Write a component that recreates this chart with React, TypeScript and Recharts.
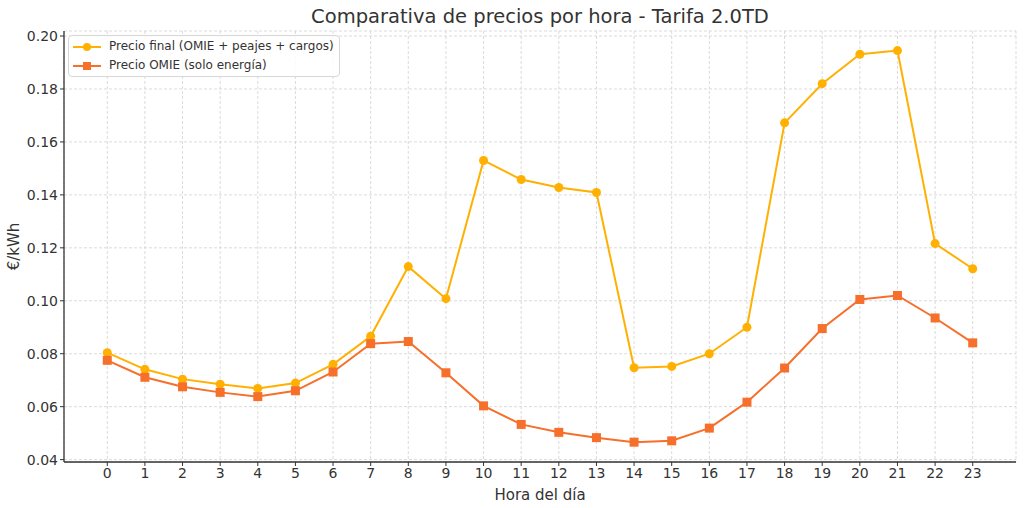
import React from 'react'
import { LineChart, Line, XAxis, YAxis, CartesianGrid } from 'recharts'

const hours = [0, 1, 2, 3, 4, 5, 6, 7, 8, 9, 10, 11, 12, 13, 14, 15, 16, 17, 18, 19, 20, 21, 22, 23]

const finalPrice = [
  0.0804, 0.0741, 0.0704, 0.0685, 0.0669, 0.0689, 0.0760, 0.0866, 0.1129, 0.1008, 0.1530, 0.1458,
  0.1428, 0.1409, 0.0747, 0.0752, 0.0800, 0.0900, 0.1672, 0.1820, 0.1931, 0.1945, 0.1216, 0.1121,
]

const omiePrice = [
  0.0775, 0.0711, 0.0675, 0.0654, 0.0638, 0.0660, 0.0731, 0.0838, 0.0846, 0.0728, 0.0603, 0.0533,
  0.0503, 0.0483, 0.0466, 0.0471, 0.0519, 0.0617, 0.0746, 0.0895, 0.1005, 0.1020, 0.0935, 0.0841,
]

const yTicks = [0.04, 0.06, 0.08, 0.1, 0.12, 0.14, 0.16, 0.18, 0.2]

const FINAL_COLOR = '#ffb000'
const OMIE_COLOR = '#f66f2b'
const TEXT = '#333333'
const FONT = 'DejaVu Sans, sans-serif'

const data = hours.map((h, i) => ({ hour: h, final: finalPrice[i], omie: omiePrice[i] }))

const SquareDot = (props: any) => {
  const { cx, cy, index } = props
  if (cx == null || cy == null) return null
  return <rect key={`sq-${index}`} x={cx - 4.5} y={cy - 4.5} width={9} height={9} fill={OMIE_COLOR} />
}

const legendItems = [
  { label: 'Precio final (OMIE + peajes + cargos)', color: FINAL_COLOR, square: false },
  { label: 'Precio OMIE (solo energía)', color: OMIE_COLOR, square: true },
]

// legend drawn by hand so it floats over the plot like the original
const LegendBox = () => (
  <div
    style={{
      position: 'absolute',
      left: 68,
      top: 35,
      border: '1px solid #d6d6d6',
      borderRadius: 4,
      background: 'rgba(255,255,255,0.85)',
      padding: '1px 5px 1px 4px',
      fontFamily: FONT,
      fontSize: 12,
      color: TEXT,
      lineHeight: '19px',
      zIndex: 2,
    }}
  >
    {legendItems.map((item) => (
      <div key={item.label} style={{ display: 'flex', alignItems: 'center' }}>
        <svg width={28} height={12} style={{ marginRight: 8 }}>
          <line x1={0} y1={6} x2={28} y2={6} stroke={item.color} strokeWidth={2} />
          {item.square ? (
            <rect x={10} y={2} width={8} height={8} fill={item.color} />
          ) : (
            <circle cx={14} cy={6} r={4} fill={item.color} />
          )}
        </svg>
        <span>{item.label}</span>
      </div>
    ))}
  </div>
)

export default function App() {
  return (
    <div style={{ position: 'absolute', left: 0, top: 0, width: 1024, height: 508, background: '#fff' }}>
      <div
        style={{
          position: 'absolute',
          left: 64,
          width: 952,
          top: 5,
          textAlign: 'center',
          fontFamily: FONT,
          fontSize: 19.5,
          color: TEXT,
        }}
      >
        Comparativa de precios por hora - Tarifa 2.0TD
      </div>
      <LegendBox />
      <LineChart width={1024} height={508} data={data} margin={{ top: 31, right: 8, left: 0, bottom: 0 }}>
        <CartesianGrid stroke="#d2d2d2" strokeDasharray="3 2" strokeWidth={0.8} />
        <XAxis
          dataKey="hour"
          type="number"
          domain={[-1.15, 24.15]}
          ticks={hours}
          interval={0}
          allowDataOverflow
          height={46}
          axisLine={{ stroke: TEXT, strokeWidth: 1.3 }}
          tickLine={{ stroke: TEXT }}
          tickSize={4}
          tick={{ fill: TEXT, fontSize: 14, fontFamily: FONT }}
          label={{ value: 'Hora del día', position: 'insideBottom', offset: 8, fill: TEXT, fontSize: 15, fontFamily: FONT }}
        />
        <YAxis
          type="number"
          domain={[0.0391, 0.2019]}
          ticks={yTicks}
          allowDataOverflow
          width={64}
          tickFormatter={(v: number) => v.toFixed(2)}
          axisLine={{ stroke: TEXT, strokeWidth: 1.3 }}
          tickLine={{ stroke: TEXT }}
          tickSize={4}
          tick={{ fill: TEXT, fontSize: 14, fontFamily: FONT }}
          label={{ value: '€/kWh', angle: -90, position: 'insideLeft', offset: 14, fill: TEXT, fontSize: 15, fontFamily: FONT, style: { textAnchor: 'middle' } }}
        />
        <Line
          dataKey="final"
          stroke={FINAL_COLOR}
          strokeWidth={2}
          dot={{ r: 4.5, fill: FINAL_COLOR, stroke: FINAL_COLOR, strokeWidth: 0 }}
          activeDot={false}
          isAnimationActive={false}
        />
        <Line
          dataKey="omie"
          stroke={OMIE_COLOR}
          strokeWidth={2}
          dot={SquareDot}
          activeDot={false}
          isAnimationActive={false}
        />
      </LineChart>
    </div>
  )
}
